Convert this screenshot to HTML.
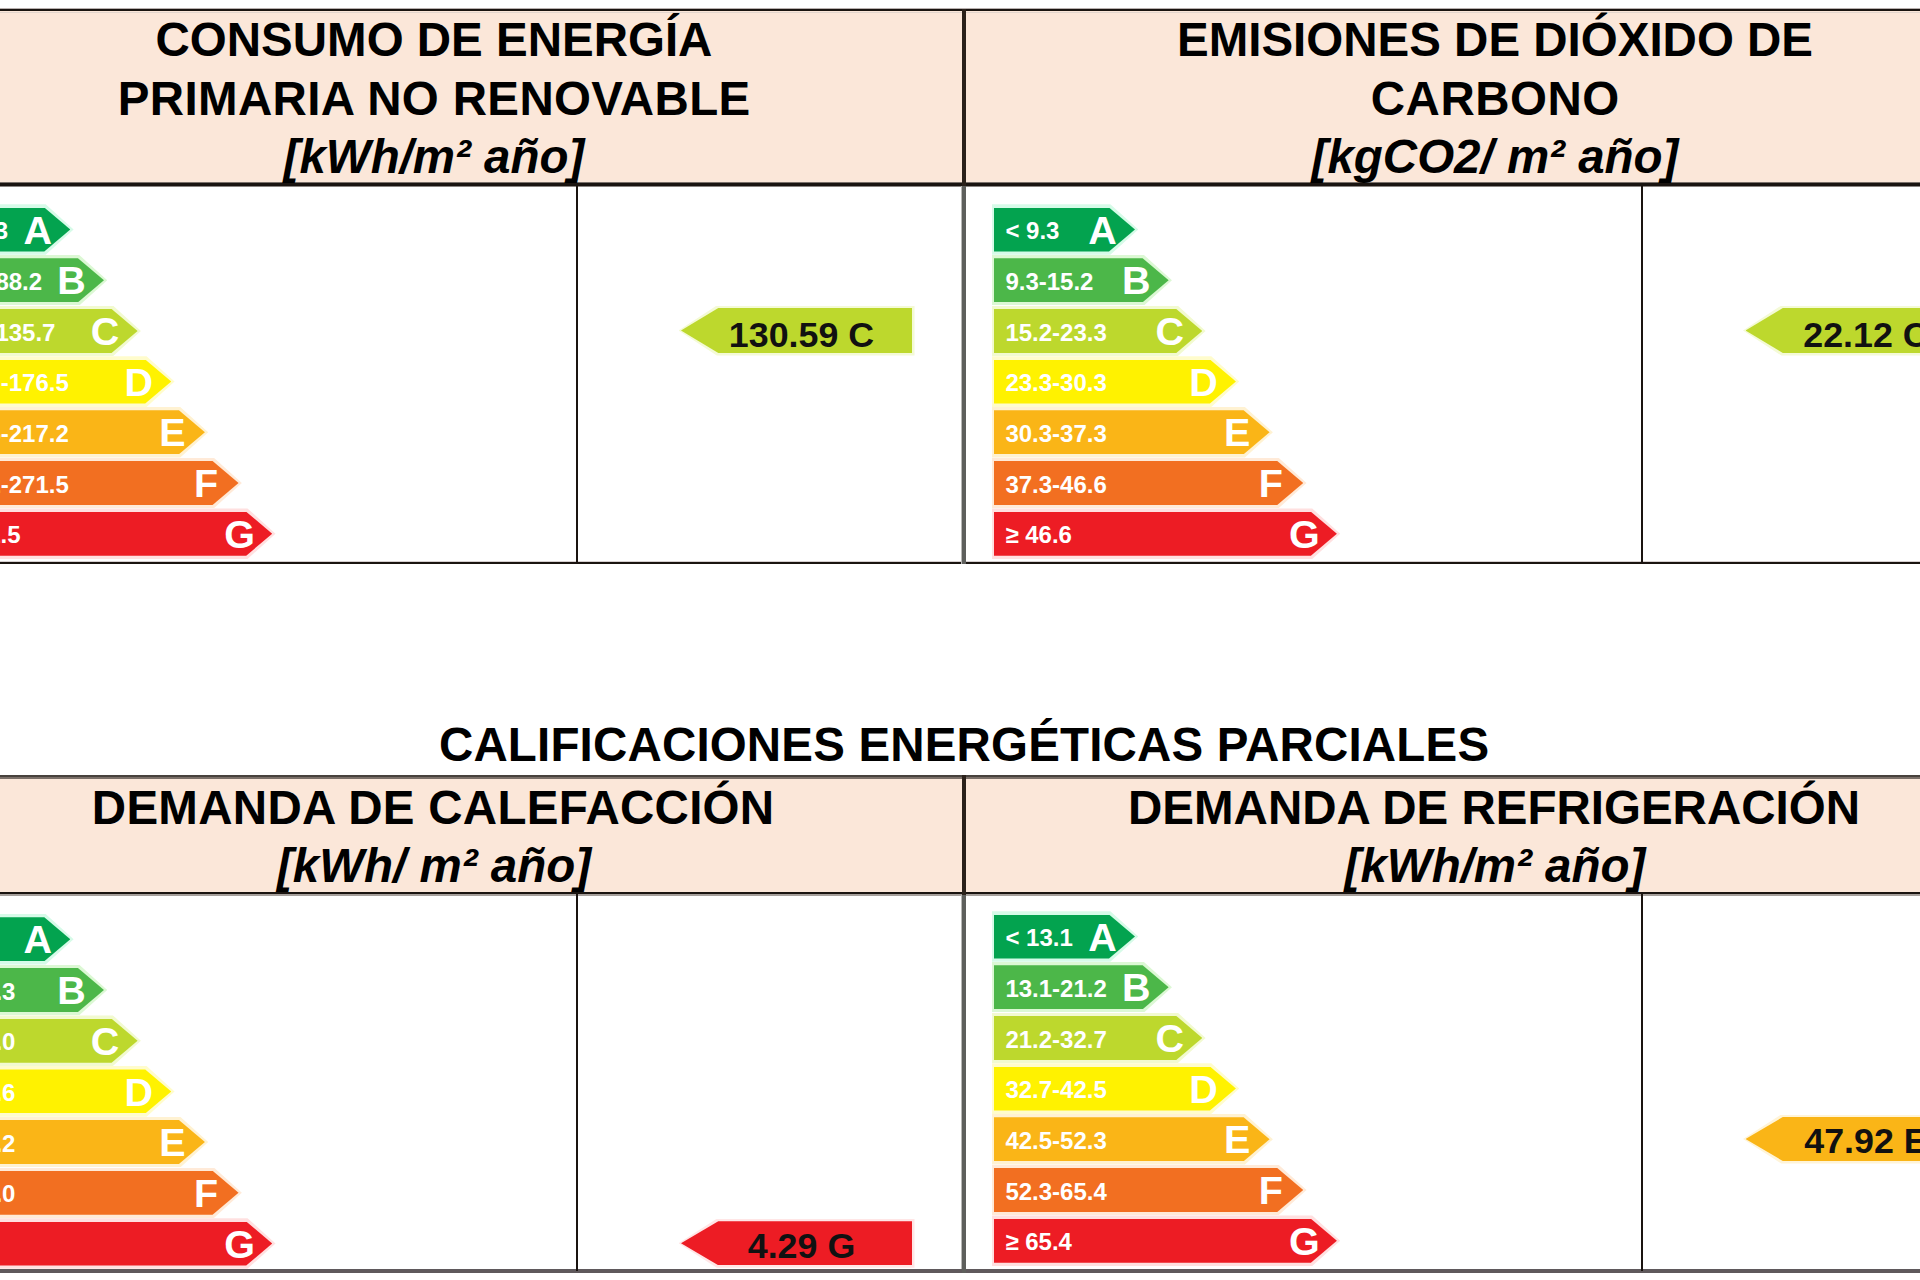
<!DOCTYPE html><html><head><meta charset="utf-8"><style>
html,body{margin:0;padding:0;width:1920px;height:1280px;overflow:hidden;background:#fff;}
body{position:relative;font-family:"Liberation Sans",sans-serif;}
.a{position:absolute;}
.hdr{position:absolute;background:#fbe7d9;}
.ln{position:absolute;background:#1a1410;}
.ht{position:absolute;white-space:nowrap;font-weight:bold;font-size:47.5px;line-height:1;color:#000;text-align:center;}
.bar{position:absolute;height:44px;}
.rt{position:absolute;white-space:nowrap;font-weight:bold;font-size:24px;line-height:1;color:#fff;}
.lt{position:absolute;white-space:nowrap;font-weight:bold;font-size:39.5px;line-height:1;color:#fff;width:60px;text-align:center;}
.it{position:absolute;white-space:nowrap;font-weight:bold;font-size:35.8px;line-height:1;color:#111;width:300px;text-align:center;}
</style></head><body>

<div class="hdr" style="left:0;top:10px;width:1920px;height:174px"></div>
<div class="hdr" style="left:0;top:779px;width:1920px;height:114px"></div>
<div class="ln" style="left:0;top:8px;width:1920px;height:1px;background:#b8b0ae"></div>
<div class="ln" style="left:0;top:9px;width:1920px;height:2px"></div>
<div class="ln" style="left:0;top:12px;width:1920px;height:1px;background:#e2d6ce"></div>
<div class="ln" style="left:0;top:182px;width:1920px;height:1px;background:#7a716b"></div>
<div class="ln" style="left:0;top:183px;width:1920px;height:3px"></div>
<div class="ln" style="left:0;top:186px;width:1920px;height:1px;background:#8a8582"></div>
<div class="ln" style="left:0;top:561px;width:1920px;height:1px;background:#d6cfcf"></div>
<div class="ln" style="left:0;top:562px;width:1920px;height:2px"></div>
<div class="ln" style="left:962px;top:9px;width:4px;height:178px;background:#2a211a"></div>
<div class="ln" style="left:961px;top:186px;width:1px;height:378px;background:#b8b8b6"></div>
<div class="ln" style="left:962px;top:186px;width:4px;height:378px;background:#5e5f5c"></div>
<div class="ln" style="left:576px;top:184px;width:2px;height:380px"></div>
<div class="ln" style="left:1641px;top:184px;width:2px;height:380px"></div>
<div class="ln" style="left:0;top:775px;width:1920px;height:2px;background:#48423d"></div>
<div class="ln" style="left:0;top:777px;width:1920px;height:2px;background:#7a6f68"></div>
<div class="ln" style="left:0;top:892px;width:1920px;height:2px"></div>
<div class="ln" style="left:0;top:894px;width:1920px;height:2px;background:#a6a09c"></div>
<div class="ln" style="left:0;top:1269px;width:1920px;height:4px;background:#5f595c"></div>
<div class="ln" style="left:962px;top:775px;width:4px;height:120px;background:#2a211a"></div>
<div class="ln" style="left:961px;top:895px;width:1px;height:374px;background:#b8b8b6"></div>
<div class="ln" style="left:962px;top:895px;width:4px;height:378px;background:#5e5f5c"></div>
<div class="ln" style="left:576px;top:893px;width:2px;height:378px"></div>
<div class="ln" style="left:1641px;top:893px;width:2px;height:378px"></div>
<div class="ht" style="left:-266.00px;top:15.79px;width:1400px;">CONSUMO DE ENERGÍA</div>
<div class="ht" style="left:-266.00px;top:74.79px;width:1400px;letter-spacing:0.35px;text-indent:0.35px;">PRIMARIA NO RENOVABLE</div>
<div class="ht" style="left:-266.00px;top:132.79px;width:1400px;font-style:italic;">[kWh/m² año]</div>
<div class="ht" style="left:795.00px;top:15.79px;width:1400px;">EMISIONES DE DIÓXIDO DE</div>
<div class="ht" style="left:795.00px;top:74.79px;width:1400px;letter-spacing:0.50px;text-indent:0.50px;">CARBONO</div>
<div class="ht" style="left:795.00px;top:132.79px;width:1400px;font-style:italic;">[kgCO2/ m² año]</div>
<div class="ht" style="left:264.00px;top:720.79px;width:1400px;letter-spacing:0.17px;text-indent:0.17px;">CALIFICACIONES ENERGÉTICAS PARCIALES</div>
<div class="ht" style="left:-267.00px;top:783.79px;width:1400px;letter-spacing:0.28px;text-indent:0.28px;">DEMANDA DE CALEFACCIÓN</div>
<div class="ht" style="left:-266.00px;top:842.29px;width:1400px;font-style:italic;">[kWh/ m² año]</div>
<div class="ht" style="left:794.00px;top:783.79px;width:1400px;">DEMANDA DE REFRIGERACIÓN</div>
<div class="ht" style="left:795.00px;top:842.29px;width:1400px;font-style:italic;">[kWh/m² año]</div>
<div class="a" style="left:-73.10px;top:204.20px;width:146.70px;height:50.60px;background:#d6fbe8;clip-path:polygon(0 0,118.72px 0,100% 50%,118.72px 100%,0 100%)"></div>
<div class="bar" style="left:-71.10px;top:207.50px;width:141.40px;background:#03a34f;clip-path:polygon(0 0,115.40px 0,100% 50%,115.40px 100%,0 100%)"></div>
<div class="rt" style="left:-59.30px;top:219.18px;">&lt; 54.3</div>
<div class="lt" style="left:7.80px;top:210.66px;">A</div>
<div class="a" style="left:-73.10px;top:254.90px;width:180.35px;height:50.60px;background:#dcf8d4;clip-path:polygon(0 0,152.37px 0,100% 50%,152.37px 100%,0 100%)"></div>
<div class="bar" style="left:-71.10px;top:258.20px;width:175.05px;background:#4cb749;clip-path:polygon(0 0,149.05px 0,100% 50%,149.05px 100%,0 100%)"></div>
<div class="rt" style="left:-59.30px;top:269.88px;">54.3-88.2</div>
<div class="lt" style="left:41.45px;top:261.36px;">B</div>
<div class="a" style="left:-73.10px;top:305.60px;width:214.00px;height:50.60px;background:#f2fad0;clip-path:polygon(0 0,186.02px 0,100% 50%,186.02px 100%,0 100%)"></div>
<div class="bar" style="left:-71.10px;top:308.90px;width:208.70px;background:#bdd82d;clip-path:polygon(0 0,182.70px 0,100% 50%,182.70px 100%,0 100%)"></div>
<div class="rt" style="left:-59.30px;top:320.58px;">88.2-135.7</div>
<div class="lt" style="left:75.10px;top:312.06px;">C</div>
<div class="a" style="left:-73.10px;top:356.30px;width:247.65px;height:50.60px;background:#fffccc;clip-path:polygon(0 0,219.67px 0,100% 50%,219.67px 100%,0 100%)"></div>
<div class="bar" style="left:-71.10px;top:359.60px;width:242.35px;background:#fff200;clip-path:polygon(0 0,216.35px 0,100% 50%,216.35px 100%,0 100%)"></div>
<div class="rt" style="left:-59.30px;top:371.28px;">135.7-176.5</div>
<div class="lt" style="left:108.75px;top:362.76px;">D</div>
<div class="a" style="left:-73.10px;top:407.00px;width:281.30px;height:50.60px;background:#fff2d2;clip-path:polygon(0 0,253.32px 0,100% 50%,253.32px 100%,0 100%)"></div>
<div class="bar" style="left:-71.10px;top:410.30px;width:276.00px;background:#fab517;clip-path:polygon(0 0,250.00px 0,100% 50%,250.00px 100%,0 100%)"></div>
<div class="rt" style="left:-59.30px;top:421.98px;">176.5-217.2</div>
<div class="lt" style="left:142.40px;top:413.46px;">E</div>
<div class="a" style="left:-73.10px;top:457.70px;width:314.95px;height:50.60px;background:#ffead8;clip-path:polygon(0 0,286.97px 0,100% 50%,286.97px 100%,0 100%)"></div>
<div class="bar" style="left:-71.10px;top:461.00px;width:309.65px;background:#f26f21;clip-path:polygon(0 0,283.65px 0,100% 50%,283.65px 100%,0 100%)"></div>
<div class="rt" style="left:-59.30px;top:472.68px;">217.2-271.5</div>
<div class="lt" style="left:176.05px;top:464.16px;">F</div>
<div class="a" style="left:-73.10px;top:508.40px;width:348.60px;height:50.60px;background:#ffe0e0;clip-path:polygon(0 0,320.62px 0,100% 50%,320.62px 100%,0 100%)"></div>
<div class="bar" style="left:-71.10px;top:511.70px;width:343.30px;background:#ed1c24;clip-path:polygon(0 0,317.30px 0,100% 50%,317.30px 100%,0 100%)"></div>
<div class="rt" style="left:-59.30px;top:523.38px;">≥ 271.5</div>
<div class="lt" style="left:209.70px;top:514.86px;">G</div>
<div class="a" style="left:991.60px;top:204.20px;width:146.70px;height:50.60px;background:#d6fbe8;clip-path:polygon(0 0,118.72px 0,100% 50%,118.72px 100%,0 100%)"></div>
<div class="bar" style="left:993.60px;top:207.50px;width:141.40px;background:#03a34f;clip-path:polygon(0 0,115.40px 0,100% 50%,115.40px 100%,0 100%)"></div>
<div class="rt" style="left:1005.40px;top:219.18px;">&lt; 9.3</div>
<div class="lt" style="left:1072.50px;top:210.66px;">A</div>
<div class="a" style="left:991.60px;top:254.90px;width:180.35px;height:50.60px;background:#dcf8d4;clip-path:polygon(0 0,152.37px 0,100% 50%,152.37px 100%,0 100%)"></div>
<div class="bar" style="left:993.60px;top:258.20px;width:175.05px;background:#4cb749;clip-path:polygon(0 0,149.05px 0,100% 50%,149.05px 100%,0 100%)"></div>
<div class="rt" style="left:1005.40px;top:269.88px;">9.3-15.2</div>
<div class="lt" style="left:1106.15px;top:261.36px;">B</div>
<div class="a" style="left:991.60px;top:305.60px;width:214.00px;height:50.60px;background:#f2fad0;clip-path:polygon(0 0,186.02px 0,100% 50%,186.02px 100%,0 100%)"></div>
<div class="bar" style="left:993.60px;top:308.90px;width:208.70px;background:#bdd82d;clip-path:polygon(0 0,182.70px 0,100% 50%,182.70px 100%,0 100%)"></div>
<div class="rt" style="left:1005.40px;top:320.58px;">15.2-23.3</div>
<div class="lt" style="left:1139.80px;top:312.06px;">C</div>
<div class="a" style="left:991.60px;top:356.30px;width:247.65px;height:50.60px;background:#fffccc;clip-path:polygon(0 0,219.67px 0,100% 50%,219.67px 100%,0 100%)"></div>
<div class="bar" style="left:993.60px;top:359.60px;width:242.35px;background:#fff200;clip-path:polygon(0 0,216.35px 0,100% 50%,216.35px 100%,0 100%)"></div>
<div class="rt" style="left:1005.40px;top:371.28px;">23.3-30.3</div>
<div class="lt" style="left:1173.45px;top:362.76px;">D</div>
<div class="a" style="left:991.60px;top:407.00px;width:281.30px;height:50.60px;background:#fff2d2;clip-path:polygon(0 0,253.32px 0,100% 50%,253.32px 100%,0 100%)"></div>
<div class="bar" style="left:993.60px;top:410.30px;width:276.00px;background:#fab517;clip-path:polygon(0 0,250.00px 0,100% 50%,250.00px 100%,0 100%)"></div>
<div class="rt" style="left:1005.40px;top:421.98px;">30.3-37.3</div>
<div class="lt" style="left:1207.10px;top:413.46px;">E</div>
<div class="a" style="left:991.60px;top:457.70px;width:314.95px;height:50.60px;background:#ffead8;clip-path:polygon(0 0,286.97px 0,100% 50%,286.97px 100%,0 100%)"></div>
<div class="bar" style="left:993.60px;top:461.00px;width:309.65px;background:#f26f21;clip-path:polygon(0 0,283.65px 0,100% 50%,283.65px 100%,0 100%)"></div>
<div class="rt" style="left:1005.40px;top:472.68px;">37.3-46.6</div>
<div class="lt" style="left:1240.75px;top:464.16px;">F</div>
<div class="a" style="left:991.60px;top:508.40px;width:348.60px;height:50.60px;background:#ffe0e0;clip-path:polygon(0 0,320.62px 0,100% 50%,320.62px 100%,0 100%)"></div>
<div class="bar" style="left:993.60px;top:511.70px;width:343.30px;background:#ed1c24;clip-path:polygon(0 0,317.30px 0,100% 50%,317.30px 100%,0 100%)"></div>
<div class="rt" style="left:1005.40px;top:523.38px;">≥ 46.6</div>
<div class="lt" style="left:1274.40px;top:514.86px;">G</div>
<div class="a" style="left:-73.10px;top:914.00px;width:146.70px;height:50.60px;background:#d6fbe8;clip-path:polygon(0 0,118.72px 0,100% 50%,118.72px 100%,0 100%)"></div>
<div class="bar" style="left:-71.10px;top:917.30px;width:141.40px;background:#03a34f;clip-path:polygon(0 0,115.40px 0,100% 50%,115.40px 100%,0 100%)"></div>
<div class="rt" style="left:-59.30px;top:928.98px;">&lt; 1.3</div>
<div class="lt" style="left:7.80px;top:920.46px;">A</div>
<div class="a" style="left:-73.10px;top:964.70px;width:180.35px;height:50.60px;background:#dcf8d4;clip-path:polygon(0 0,152.37px 0,100% 50%,152.37px 100%,0 100%)"></div>
<div class="bar" style="left:-71.10px;top:968.00px;width:175.05px;background:#4cb749;clip-path:polygon(0 0,149.05px 0,100% 50%,149.05px 100%,0 100%)"></div>
<div class="rt" style="left:-59.30px;top:979.68px;">1.3-2.3</div>
<div class="lt" style="left:41.45px;top:971.16px;">B</div>
<div class="a" style="left:-73.10px;top:1015.40px;width:214.00px;height:50.60px;background:#f2fad0;clip-path:polygon(0 0,186.02px 0,100% 50%,186.02px 100%,0 100%)"></div>
<div class="bar" style="left:-71.10px;top:1018.70px;width:208.70px;background:#bdd82d;clip-path:polygon(0 0,182.70px 0,100% 50%,182.70px 100%,0 100%)"></div>
<div class="rt" style="left:-59.30px;top:1030.38px;">2.3-4.0</div>
<div class="lt" style="left:75.10px;top:1021.86px;">C</div>
<div class="a" style="left:-73.10px;top:1066.10px;width:247.65px;height:50.60px;background:#fffccc;clip-path:polygon(0 0,219.67px 0,100% 50%,219.67px 100%,0 100%)"></div>
<div class="bar" style="left:-71.10px;top:1069.40px;width:242.35px;background:#fff200;clip-path:polygon(0 0,216.35px 0,100% 50%,216.35px 100%,0 100%)"></div>
<div class="rt" style="left:-59.30px;top:1081.08px;">4.0-5.6</div>
<div class="lt" style="left:108.75px;top:1072.56px;">D</div>
<div class="a" style="left:-73.10px;top:1116.80px;width:281.30px;height:50.60px;background:#fff2d2;clip-path:polygon(0 0,253.32px 0,100% 50%,253.32px 100%,0 100%)"></div>
<div class="bar" style="left:-71.10px;top:1120.10px;width:276.00px;background:#fab517;clip-path:polygon(0 0,250.00px 0,100% 50%,250.00px 100%,0 100%)"></div>
<div class="rt" style="left:-59.30px;top:1131.78px;">5.6-7.2</div>
<div class="lt" style="left:142.40px;top:1123.26px;">E</div>
<div class="a" style="left:-73.10px;top:1167.50px;width:314.95px;height:50.60px;background:#ffead8;clip-path:polygon(0 0,286.97px 0,100% 50%,286.97px 100%,0 100%)"></div>
<div class="bar" style="left:-71.10px;top:1170.80px;width:309.65px;background:#f26f21;clip-path:polygon(0 0,283.65px 0,100% 50%,283.65px 100%,0 100%)"></div>
<div class="rt" style="left:-59.30px;top:1182.48px;">7.2-9.0</div>
<div class="lt" style="left:176.05px;top:1173.96px;">F</div>
<div class="a" style="left:-73.10px;top:1218.20px;width:348.60px;height:50.60px;background:#ffe0e0;clip-path:polygon(0 0,320.62px 0,100% 50%,320.62px 100%,0 100%)"></div>
<div class="bar" style="left:-71.10px;top:1221.50px;width:343.30px;background:#ed1c24;clip-path:polygon(0 0,317.30px 0,100% 50%,317.30px 100%,0 100%)"></div>
<div class="rt" style="left:-59.30px;top:1233.18px;">≥ 9.0</div>
<div class="lt" style="left:209.70px;top:1224.66px;">G</div>
<div class="a" style="left:991.60px;top:911.20px;width:146.70px;height:50.60px;background:#d6fbe8;clip-path:polygon(0 0,118.72px 0,100% 50%,118.72px 100%,0 100%)"></div>
<div class="bar" style="left:993.60px;top:914.50px;width:141.40px;background:#03a34f;clip-path:polygon(0 0,115.40px 0,100% 50%,115.40px 100%,0 100%)"></div>
<div class="rt" style="left:1005.40px;top:926.18px;">&lt; 13.1</div>
<div class="lt" style="left:1072.50px;top:917.66px;">A</div>
<div class="a" style="left:991.60px;top:961.90px;width:180.35px;height:50.60px;background:#dcf8d4;clip-path:polygon(0 0,152.37px 0,100% 50%,152.37px 100%,0 100%)"></div>
<div class="bar" style="left:993.60px;top:965.20px;width:175.05px;background:#4cb749;clip-path:polygon(0 0,149.05px 0,100% 50%,149.05px 100%,0 100%)"></div>
<div class="rt" style="left:1005.40px;top:976.88px;">13.1-21.2</div>
<div class="lt" style="left:1106.15px;top:968.36px;">B</div>
<div class="a" style="left:991.60px;top:1012.60px;width:214.00px;height:50.60px;background:#f2fad0;clip-path:polygon(0 0,186.02px 0,100% 50%,186.02px 100%,0 100%)"></div>
<div class="bar" style="left:993.60px;top:1015.90px;width:208.70px;background:#bdd82d;clip-path:polygon(0 0,182.70px 0,100% 50%,182.70px 100%,0 100%)"></div>
<div class="rt" style="left:1005.40px;top:1027.58px;">21.2-32.7</div>
<div class="lt" style="left:1139.80px;top:1019.06px;">C</div>
<div class="a" style="left:991.60px;top:1063.30px;width:247.65px;height:50.60px;background:#fffccc;clip-path:polygon(0 0,219.67px 0,100% 50%,219.67px 100%,0 100%)"></div>
<div class="bar" style="left:993.60px;top:1066.60px;width:242.35px;background:#fff200;clip-path:polygon(0 0,216.35px 0,100% 50%,216.35px 100%,0 100%)"></div>
<div class="rt" style="left:1005.40px;top:1078.28px;">32.7-42.5</div>
<div class="lt" style="left:1173.45px;top:1069.76px;">D</div>
<div class="a" style="left:991.60px;top:1114.00px;width:281.30px;height:50.60px;background:#fff2d2;clip-path:polygon(0 0,253.32px 0,100% 50%,253.32px 100%,0 100%)"></div>
<div class="bar" style="left:993.60px;top:1117.30px;width:276.00px;background:#fab517;clip-path:polygon(0 0,250.00px 0,100% 50%,250.00px 100%,0 100%)"></div>
<div class="rt" style="left:1005.40px;top:1128.98px;">42.5-52.3</div>
<div class="lt" style="left:1207.10px;top:1120.46px;">E</div>
<div class="a" style="left:991.60px;top:1164.70px;width:314.95px;height:50.60px;background:#ffead8;clip-path:polygon(0 0,286.97px 0,100% 50%,286.97px 100%,0 100%)"></div>
<div class="bar" style="left:993.60px;top:1168.00px;width:309.65px;background:#f26f21;clip-path:polygon(0 0,283.65px 0,100% 50%,283.65px 100%,0 100%)"></div>
<div class="rt" style="left:1005.40px;top:1179.68px;">52.3-65.4</div>
<div class="lt" style="left:1240.75px;top:1171.16px;">F</div>
<div class="a" style="left:991.60px;top:1215.40px;width:348.60px;height:50.60px;background:#ffe0e0;clip-path:polygon(0 0,320.62px 0,100% 50%,320.62px 100%,0 100%)"></div>
<div class="bar" style="left:993.60px;top:1218.70px;width:343.30px;background:#ed1c24;clip-path:polygon(0 0,317.30px 0,100% 50%,317.30px 100%,0 100%)"></div>
<div class="rt" style="left:1005.40px;top:1230.38px;">≥ 65.4</div>
<div class="lt" style="left:1274.40px;top:1221.86px;">G</div>
<div class="a" style="left:678.50px;top:305.50px;width:236.00px;height:50.00px;background:#f4fad6;clip-path:polygon(0 50%,38.30px 0,100% 0,100% 100%,38.30px 100%)"></div>
<div class="bar" style="left:681.00px;top:308.00px;width:231.00px;height:45px;background:#bdd82d;clip-path:polygon(0 50%,37.30px 0,100% 0,100% 100%,37.30px 100%)"></div>
<div class="it" style="left:651.50px;top:317.90px;">130.59 C</div>
<div class="a" style="left:1743.00px;top:305.50px;width:236.00px;height:50.00px;background:#f4fad6;clip-path:polygon(0 50%,38.30px 0,100% 0,100% 100%,38.30px 100%)"></div>
<div class="bar" style="left:1745.50px;top:308.00px;width:231.00px;height:45px;background:#bdd82d;clip-path:polygon(0 50%,37.30px 0,100% 0,100% 100%,37.30px 100%)"></div>
<div class="it" style="left:1716.00px;top:317.90px;">22.12 C</div>
<div class="a" style="left:678.50px;top:1218.80px;width:236.00px;height:49.00px;background:#ffe6e6;clip-path:polygon(0 50%,38.30px 0,100% 0,100% 100%,38.30px 100%)"></div>
<div class="bar" style="left:681.00px;top:1221.30px;width:231.00px;height:44px;background:#ed1c24;clip-path:polygon(0 50%,37.30px 0,100% 0,100% 100%,37.30px 100%)"></div>
<div class="it" style="left:651.50px;top:1228.50px;">4.29 G</div>
<div class="a" style="left:1743.00px;top:1114.50px;width:236.00px;height:49.00px;background:#fff4d8;clip-path:polygon(0 50%,38.30px 0,100% 0,100% 100%,38.30px 100%)"></div>
<div class="bar" style="left:1745.50px;top:1117.00px;width:231.00px;height:44px;background:#fab517;clip-path:polygon(0 50%,37.30px 0,100% 0,100% 100%,37.30px 100%)"></div>
<div class="it" style="left:1716.00px;top:1123.90px;">47.92 E</div>
</body></html>
